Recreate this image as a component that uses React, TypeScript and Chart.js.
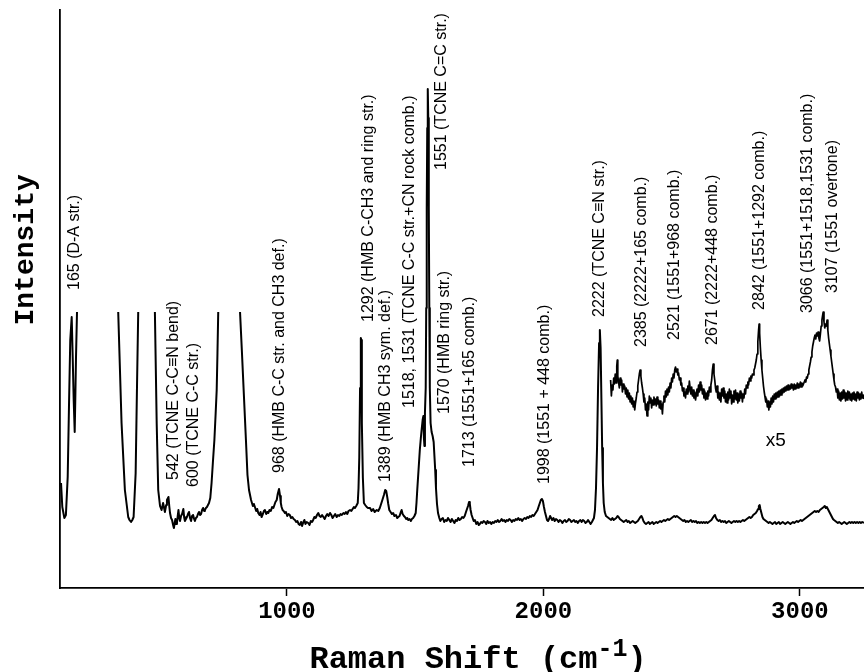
import React, { useEffect, useRef } from "react";
import { Chart, registerables } from "chart.js";

Chart.register(...registerables);

// Raman shift (cm-1), intensity (arb. units); null = off-scale (trace clipped in the figure)
const mainTrace: [number, number | null][] = [
  [119, 105], [124, 81], [132, 70], [138, 73], [145, 111], [150, 181], [155, 248], [160.6, 271],
  [164.5, 231], [168.4, 188], [172.3, 156], [174.6, 188], [177.4, 231], [181.3, 276], [260, null],
  [342, 276], [355, 165], [368, 98], [381, 71], [386, 68], [392, 66], [397, 68], [402, 71],
  [410, 115], [415, 198], [420, 276], [450, null],
  [485, 276], [492, 165], [498, 98], [505, 82], [511, 78], [517, 85], [524, 76], [529, 83],
  [532, 88], [538, 91], [541, 82], [544, 75], [548, 70], [552, 68], [556, 63], [559, 60],
  [563, 66], [565, 69], [568, 64], [571, 65], [574, 72], [577, 78], [580, 70], [583, 67],
  [587, 72], [591, 74], [596, 79], [599, 71], [602, 67], [606, 69], [610, 71], [614, 74],
  [618, 76], [622, 70], [626, 67], [630, 72], [634, 73], [638, 69], [641, 67], [645, 70],
  [649, 71], [653, 74], [657, 76], [661, 73], [665, 74], [669, 78], [673, 80], [677, 77],
  [680, 78], [684, 80], [688, 81], [692, 83], [696, 85], [701, 90], [706, 105], [711, 125],
  [717, 148], [722, 175], [726, 198], [729, 235], [732, 276], [780, null],
  [817, 276], [824, 238], [832, 193], [840, 148], [846, 113], [852, 98], [860, 88], [867, 82],
  [871, 84], [875, 81], [880, 77], [884, 79], [888, 75], [893, 73], [897, 76], [901, 71],
  [906, 74], [910, 77], [914, 78], [919, 74], [923, 76], [927, 75], [932, 78], [937, 77],
  [942, 81], [947, 80], [951, 83], [955, 86], [960, 88], [964, 94], [969, 99], [973, 92],
  [976, 85], [979, 81], [983, 78], [987, 77], [992, 75], [996, 76], [1001, 72], [1006, 74],
  [1011, 73], [1016, 70], [1021, 71], [1026, 69], [1031, 68], [1036, 66], [1041, 67], [1045, 64],
  [1050, 63], [1055, 66], [1059, 62], [1064, 66], [1068, 68], [1072, 64], [1077, 66], [1083, 65],
  [1088, 63], [1093, 67], [1098, 66], [1102, 68], [1107, 71], [1112, 70], [1117, 73], [1122, 75],
  [1127, 72], [1132, 71], [1137, 73], [1142, 71], [1147, 69], [1152, 72], [1157, 74], [1162, 72],
  [1168, 75], [1173, 73], [1178, 70], [1183, 72], [1188, 74], [1194, 71], [1199, 73], [1204, 72],
  [1209, 74], [1214, 73], [1220, 75], [1225, 74], [1230, 76], [1235, 74], [1240, 77], [1246, 78],
  [1251, 77], [1256, 79], [1261, 81], [1265, 80], [1270, 82], [1276, 85], [1279, 100], [1282, 131],
  [1285, 200], [1288, 250], [1290, 248], [1292, 165], [1296, 110], [1300, 85], [1305, 83], [1311, 81],
  [1316, 80], [1324, 80], [1330, 77], [1336, 79], [1342, 76], [1350, 78], [1356, 77], [1362, 80],
  [1367, 84], [1372, 88], [1378, 93], [1383, 98], [1387, 97], [1391, 91], [1395, 84], [1399, 78],
  [1404, 76], [1409, 74], [1414, 75], [1419, 72], [1425, 73], [1430, 70], [1434, 71], [1439, 72],
  [1444, 76], [1447, 78], [1451, 74], [1456, 72], [1460, 71], [1465, 69], [1469, 70], [1473, 68],
  [1478, 69], [1483, 67], [1487, 69], [1492, 70], [1497, 72], [1502, 75], [1505, 85], [1508, 98],
  [1513, 118], [1518, 138], [1522, 150], [1525, 158], [1529, 168], [1532, 172], [1534, 150], [1536, 142],
  [1538, 175], [1541, 200], [1543, 280], [1545, 380], [1547, 460], [1549, 499], [1551, 470], [1553, 380],
  [1555, 280], [1557, 200], [1560, 165], [1564, 156], [1568, 152], [1572, 146], [1575, 132], [1578, 118],
  [1581, 100], [1585, 84], [1589, 75], [1594, 70], [1598, 67], [1603, 69], [1608, 70], [1613, 66],
  [1618, 68], [1623, 67], [1628, 70], [1633, 68], [1638, 66], [1643, 69], [1648, 67], [1653, 65],
  [1658, 68], [1663, 67], [1668, 70], [1673, 68], [1678, 69], [1683, 71], [1688, 70], [1693, 72],
  [1698, 76], [1702, 79], [1706, 82], [1710, 86], [1713, 84], [1716, 78], [1720, 73], [1724, 70],
  [1728, 67], [1733, 68], [1738, 64], [1743, 66], [1748, 63], [1752, 64], [1757, 66], [1762, 65],
  [1767, 67], [1772, 66], [1777, 64], [1782, 67], [1787, 65], [1792, 66], [1797, 64], [1802, 66],
  [1807, 65], [1812, 67], [1817, 66], [1822, 68], [1827, 66], [1832, 67], [1837, 69], [1842, 67],
  [1847, 68], [1852, 66], [1857, 68], [1862, 67], [1867, 69], [1872, 68], [1877, 66], [1882, 68],
  [1887, 67], [1892, 69], [1897, 68], [1902, 70], [1907, 68], [1912, 69], [1917, 67], [1922, 69],
  [1927, 70], [1932, 69], [1937, 71], [1942, 70], [1947, 72], [1952, 71], [1957, 73], [1962, 72],
  [1967, 74], [1972, 76], [1977, 78], [1982, 82], [1986, 85], [1990, 88], [1994, 89], [1998, 87],
  [2002, 81], [2006, 76], [2010, 72], [2014, 68], [2018, 67], [2022, 69], [2026, 72], [2030, 70],
  [2034, 68], [2039, 70], [2044, 67], [2049, 69], [2054, 68], [2059, 66], [2064, 68], [2069, 67],
  [2074, 65], [2079, 67], [2084, 68], [2089, 66], [2094, 67], [2099, 69], [2104, 68], [2109, 66],
  [2114, 67], [2119, 68], [2124, 66], [2129, 67], [2134, 65], [2139, 67], [2144, 68], [2149, 66],
  [2154, 68], [2159, 67], [2164, 65], [2169, 66], [2174, 68], [2179, 66], [2184, 64], [2189, 66],
  [2193, 68], [2197, 70], [2201, 78], [2205, 100], [2209, 140], [2213, 200], [2217, 245], [2220, 258],
  [2223, 240], [2226, 190], [2229, 140], [2232, 105], [2235, 85], [2239, 76], [2244, 72], [2249, 71],
  [2254, 70], [2259, 69], [2264, 68], [2269, 70], [2274, 68], [2279, 69], [2284, 70], [2289, 72],
  [2293, 71], [2298, 69], [2303, 68], [2308, 67], [2313, 66], [2318, 67], [2323, 68], [2328, 66],
  [2333, 67], [2338, 65], [2343, 66], [2348, 67], [2353, 66], [2358, 65], [2363, 66], [2368, 67],
  [2373, 69], [2378, 71], [2382, 72], [2386, 70], [2390, 67], [2395, 65], [2400, 64], [2405, 65],
  [2410, 66], [2415, 64], [2420, 65], [2425, 66], [2430, 64], [2435, 65], [2440, 66], [2445, 65],
  [2450, 66], [2455, 67], [2460, 66], [2465, 67], [2470, 68], [2475, 67], [2480, 68], [2485, 69],
  [2490, 68], [2495, 69], [2500, 70], [2505, 71], [2510, 72], [2515, 71], [2520, 72], [2525, 71],
  [2530, 70], [2535, 69], [2540, 68], [2545, 67], [2550, 68], [2555, 66], [2560, 67], [2565, 66],
  [2570, 67], [2575, 68], [2580, 66], [2585, 67], [2590, 66], [2595, 67], [2600, 65], [2605, 66],
  [2610, 65], [2615, 66], [2620, 65], [2625, 66], [2630, 65], [2635, 66], [2640, 65], [2645, 66],
  [2650, 67], [2655, 68], [2660, 70], [2665, 72], [2669, 73], [2673, 70], [2678, 68], [2683, 67],
  [2688, 68], [2693, 66], [2698, 67], [2703, 66], [2708, 67], [2713, 65], [2718, 66], [2723, 67],
  [2728, 66], [2733, 65], [2738, 66], [2743, 67], [2748, 66], [2753, 67], [2758, 66], [2763, 67],
  [2768, 66], [2773, 67], [2778, 68], [2783, 67], [2788, 68], [2793, 69], [2798, 70], [2803, 71],
  [2808, 70], [2813, 71], [2818, 73], [2823, 74], [2828, 75], [2833, 77], [2837, 79], [2840, 82],
  [2843, 83], [2846, 79], [2850, 75], [2854, 71], [2858, 69], [2863, 68], [2868, 67], [2873, 66],
  [2878, 65], [2883, 66], [2888, 65], [2893, 64], [2898, 65], [2903, 66], [2908, 64], [2913, 65],
  [2918, 66], [2923, 64], [2928, 65], [2933, 66], [2938, 65], [2943, 64], [2948, 65], [2953, 66],
  [2958, 65], [2963, 64], [2968, 65], [2973, 66], [2978, 65], [2983, 66], [2988, 67], [2993, 66],
  [2998, 67], [3003, 68], [3008, 67], [3013, 68], [3018, 69], [3023, 70], [3028, 71], [3033, 72],
  [3038, 73], [3043, 74], [3048, 75], [3053, 76], [3058, 77], [3063, 76], [3068, 77], [3073, 76],
  [3078, 78], [3083, 79], [3088, 80], [3093, 81], [3097, 82], [3101, 80], [3105, 81], [3109, 79],
  [3113, 77], [3117, 75], [3121, 73], [3125, 71], [3129, 69], [3133, 68], [3138, 67], [3143, 66],
  [3148, 65], [3153, 66], [3158, 65], [3163, 64], [3168, 65], [3173, 66], [3178, 65], [3183, 64],
  [3188, 65], [3193, 66], [3198, 65], [3203, 66], [3208, 65], [3213, 66], [3218, 65], [3223, 66],
  [3228, 65], [3233, 66], [3238, 65], [3243, 66], [3250, 65],
];

// x5 expanded trace of the high-frequency region
const insetTrace: [number, number][] = [
  [2262, 208], [2265, 192], [2268, 203], [2271, 198], [2274, 210], [2277, 204], [2280, 214], [2283, 205],
  [2286, 222], [2288, 228], [2290, 212], [2293, 206], [2296, 200], [2299, 210], [2302, 203], [2305, 208],
  [2308, 196], [2311, 204], [2314, 199], [2317, 202], [2320, 194], [2323, 200], [2326, 191], [2329, 198],
  [2332, 189], [2335, 195], [2338, 186], [2341, 192], [2344, 184], [2347, 190], [2350, 181], [2353, 187],
  [2356, 178], [2359, 185], [2362, 190], [2365, 196], [2368, 202], [2371, 208], [2374, 214], [2377, 218],
  [2380, 212], [2383, 205], [2386, 200], [2389, 194], [2392, 186], [2395, 190], [2398, 178], [2401, 184],
  [2404, 172], [2407, 186], [2410, 178], [2413, 192], [2416, 185], [2419, 190], [2422, 180], [2425, 188],
  [2428, 183], [2431, 191], [2434, 184], [2437, 189], [2440, 182], [2443, 191], [2446, 184], [2449, 188],
  [2452, 180], [2455, 187], [2458, 179], [2461, 184], [2464, 174], [2467, 186], [2470, 192], [2473, 186],
  [2476, 197], [2479, 191], [2482, 199], [2485, 193], [2488, 201], [2491, 196], [2494, 205], [2497, 200],
  [2500, 210], [2503, 206], [2506, 214], [2509, 210], [2512, 218], [2515, 221], [2518, 216], [2521, 219],
  [2524, 213], [2527, 215], [2530, 208], [2533, 210], [2536, 203], [2539, 205], [2542, 197], [2545, 200],
  [2548, 192], [2551, 196], [2554, 190], [2557, 199], [2560, 194], [2563, 202], [2566, 196], [2569, 207],
  [2572, 200], [2575, 194], [2578, 201], [2581, 192], [2584, 198], [2587, 190], [2590, 196], [2593, 188],
  [2596, 193], [2599, 199], [2602, 192], [2605, 203], [2608, 196], [2611, 206], [2614, 198], [2617, 203],
  [2620, 194], [2623, 199], [2626, 190], [2629, 197], [2632, 188], [2635, 195], [2638, 189], [2641, 197],
  [2644, 192], [2647, 201], [2650, 196], [2653, 203], [2656, 208], [2659, 218], [2662, 224], [2665, 214],
  [2668, 208], [2671, 200], [2674, 196], [2677, 202], [2680, 190], [2683, 196], [2686, 188], [2689, 195],
  [2692, 186], [2695, 199], [2698, 192], [2701, 200], [2704, 190], [2707, 197], [2710, 186], [2713, 194],
  [2716, 185], [2719, 196], [2722, 188], [2725, 199], [2728, 190], [2731, 197], [2734, 184], [2737, 193],
  [2740, 186], [2743, 197], [2746, 189], [2749, 198], [2752, 188], [2755, 195], [2758, 185], [2761, 194],
  [2764, 187], [2767, 197], [2770, 190], [2773, 195], [2776, 186], [2779, 194], [2782, 190], [2785, 199],
  [2788, 194], [2791, 203], [2794, 200], [2797, 206], [2800, 203], [2803, 210], [2806, 207], [2809, 212],
  [2812, 210], [2815, 214], [2818, 213], [2821, 218], [2824, 220], [2827, 224], [2830, 228], [2833, 234],
  [2836, 246], [2839, 258], [2841, 264], [2843, 255], [2846, 240], [2849, 228], [2852, 218], [2855, 210],
  [2858, 202], [2861, 196], [2864, 191], [2867, 186], [2870, 189], [2873, 181], [2876, 187], [2879, 178],
  [2882, 186], [2885, 181], [2888, 190], [2891, 184], [2894, 192], [2897, 186], [2900, 194], [2903, 189],
  [2906, 195], [2909, 190], [2912, 196], [2915, 191], [2918, 197], [2921, 192], [2924, 198], [2927, 193],
  [2930, 199], [2933, 195], [2936, 200], [2939, 196], [2942, 201], [2945, 197], [2948, 202], [2951, 198],
  [2954, 203], [2957, 198], [2960, 202], [2963, 199], [2966, 204], [2969, 200], [2972, 203], [2975, 198],
  [2978, 204], [2981, 199], [2984, 203], [2987, 200], [2990, 205], [2993, 200], [2996, 204], [2999, 201],
  [3002, 206], [3005, 201], [3008, 205], [3011, 202], [3014, 204], [3017, 206], [3020, 208], [3023, 206],
  [3026, 211], [3029, 210], [3032, 214], [3035, 218], [3038, 222], [3041, 226], [3044, 231], [3047, 236],
  [3050, 242], [3053, 246], [3056, 250], [3059, 253], [3062, 249], [3065, 255], [3068, 252], [3071, 256],
  [3074, 250], [3077, 247], [3080, 254], [3083, 262], [3086, 268], [3089, 273], [3091, 276], [3094, 266],
  [3097, 260], [3100, 264], [3103, 262], [3106, 268], [3109, 258], [3112, 250], [3115, 244], [3118, 238],
  [3121, 232], [3124, 226], [3127, 220], [3130, 214], [3133, 208], [3136, 203], [3139, 201], [3142, 196],
  [3145, 199], [3148, 190], [3151, 197], [3154, 188], [3157, 195], [3160, 187], [3163, 196], [3166, 189],
  [3169, 198], [3172, 190], [3175, 196], [3178, 187], [3181, 195], [3184, 188], [3187, 197], [3190, 190],
  [3193, 196], [3196, 188], [3199, 194], [3202, 187], [3205, 195], [3208, 189], [3211, 196], [3214, 188],
  [3217, 194], [3220, 187], [3223, 196], [3226, 190], [3229, 195], [3232, 188], [3235, 194], [3238, 189],
  [3241, 196], [3244, 190], [3247, 193], [3250, 189],
];

const xTickValues = [1000, 2000, 3000];

// Band assignments: text, anchor shift (cm-1), anchor intensity (start of the vertical text)
const bandTexts = [
  "165 (D-A str.)",
  "542 (TCNE C-C≡N bend)",
  "600 (TCNE C-C str.)",
  "968 (HMB C-C str. and CH3 def.)",
  "1292 (HMB C-CH3 and ring str.)",
  "1389 (HMB CH3 sym. def.)",
  "1518, 1531 (TCNE C-C str.+CN rock comb.)",
  "1551 (TCNE C=C str.)",
  "1570 (HMB ring str.)",
  "1713 (1551+165 comb.)",
  "1998 (1551 + 448 comb.)",
  "2222 (TCNE C≡N str.)",
  "2385 (2222+165 comb.)",
  "2521 (1551+968 comb.)",
  "2671 (2222+448 comb.)",
  "2842 (1551+1292 comb.)",
  "3066 (1551+1518,1531 comb.)",
  "3107 (1551 overtone)",
];
const bandShift = [173, 557, 637, 973, 1320, 1386, 1478, 1602, 1616, 1713, 2006, 2220, 2384, 2513, 2661, 2844, 3031, 3129];
const bandBase = [298, 108, 101, 115, 266, 106, 180, 418, 174, 121, 104, 271, 241, 248, 243, 278, 275, 295];

const scaleNote = "x5";
const scaleNoteShift = 2906;
const scaleNoteLevel = 147;

const xTitle = "Raman Shift (cm";
const xTitleSup = "-1";
const yTitle = "Intensity";

const annotate = {
  id: "annotate",
  afterDraw(chart: any) {
    const { ctx, chartArea, scales } = chart;
    const xs = scales.x;
    const ys = scales.y;
    ctx.save();
    ctx.fillStyle = "#000";
    ctx.font = '16px "Liberation Sans", Arial, sans-serif';
    ctx.textAlign = "left";
    ctx.textBaseline = "middle";
    bandTexts.forEach((t, i) => {
      const px = xs.getPixelForValue(bandShift[i]);
      const py = ys.getPixelForValue(bandBase[i]);
      ctx.save();
      ctx.translate(px, py);
      ctx.rotate(-Math.PI / 2);
      ctx.fillText(t, 0, 0);
      ctx.restore();
    });
    ctx.font = '19px "Liberation Sans", Arial, sans-serif';
    ctx.textAlign = "center";
    ctx.fillText(scaleNote, xs.getPixelForValue(scaleNoteShift), ys.getPixelForValue(scaleNoteLevel));

    // y title
    ctx.font = 'bold 28px "Liberation Mono", "Courier New", monospace';
    ctx.textBaseline = "alphabetic";
    ctx.save();
    ctx.translate(chartArea.left - 27, chartArea.top + chartArea.height * 0.415);
    ctx.rotate(-Math.PI / 2);
    ctx.fillText(yTitle, 0, 0);
    ctx.restore();

    // x title with superscript
    const mainFont = 'bold 32px "Liberation Mono", "Courier New", monospace';
    const supFont = 'bold 25px "Liberation Mono", "Courier New", monospace';
    ctx.font = mainFont;
    const w1 = ctx.measureText(xTitle).width;
    const w3 = ctx.measureText(")").width;
    ctx.font = supFont;
    const w2 = ctx.measureText(xTitleSup).width;
    const cx = chartArea.left + chartArea.width * 0.52;
    const base = chartArea.bottom + 80;
    let sx = cx - (w1 + w2 + w3) / 2;
    ctx.textAlign = "left";
    ctx.font = mainFont;
    ctx.fillText(xTitle, sx, base);
    sx += w1;
    ctx.font = supFont;
    ctx.fillText(xTitleSup, sx, base - 12);
    sx += w2;
    ctx.font = mainFont;
    ctx.fillText(")", sx, base);
    ctx.restore();
  },
};

export default function App() {
  const ref = useRef<HTMLCanvasElement | null>(null);
  useEffect(() => {
    if (!ref.current) return;
    const chart = new Chart(ref.current, {
      type: "line",
      data: {
        datasets: [
          {
            data: mainTrace.map(([x, y]) => ({ x, y })),
            borderColor: "#000",
            borderWidth: 2,
            pointRadius: 0,
            tension: 0,
            spanGaps: false,
            borderJoinStyle: "round",
          },
          {
            data: insetTrace.map(([x, y]) => ({ x, y })),
            borderColor: "#000",
            borderWidth: 1.7,
            pointRadius: 0,
            tension: 0,
            borderJoinStyle: "round",
          },
        ],
      },
      options: {
        animation: false,
        responsive: false,
        maintainAspectRatio: false,
        layout: { padding: { top: 10, left: 0, right: 0, bottom: 0 } },
        plugins: { legend: { display: false }, tooltip: { enabled: false }, title: { display: false } },
        events: [],
        scales: {
          x: {
            type: "linear",
            min: 115,
            max: 3250,
            afterBuildTicks: (s: any) => {
              s.ticks = xTickValues.map((v) => ({ value: v }));
            },
            afterFit: (s: any) => {
              s.height = 84;
            },
            ticks: {
              color: "#000",
              padding: 2,
              maxRotation: 0,
              font: { family: '"Liberation Mono", "Courier New", monospace', size: 24, weight: "bold" },
              callback: (v: any) => String(v),
            },
            grid: {
              display: true,
              drawOnChartArea: false,
              drawTicks: true,
              tickLength: 8,
              tickColor: "#000",
              tickWidth: 1.5,
            },
            border: { display: true, color: "#000", width: 1.8 },
          },
          y: {
            type: "linear",
            min: 0,
            max: 578,
            afterFit: (s: any) => {
              s.width = 60;
            },
            ticks: { display: false },
            grid: { display: false },
            border: { display: true, color: "#000", width: 1.8 },
          },
        },
      },
      plugins: [annotate],
    });
    return () => chart.destroy();
  }, []);
  return (
    <div style={{ position: "absolute", left: 0, top: 0, width: 864, height: 672, background: "#fff" }}>
      <canvas ref={ref} width={864} height={672} style={{ display: "block", width: 864, height: 672 }} />
    </div>
  );
}
